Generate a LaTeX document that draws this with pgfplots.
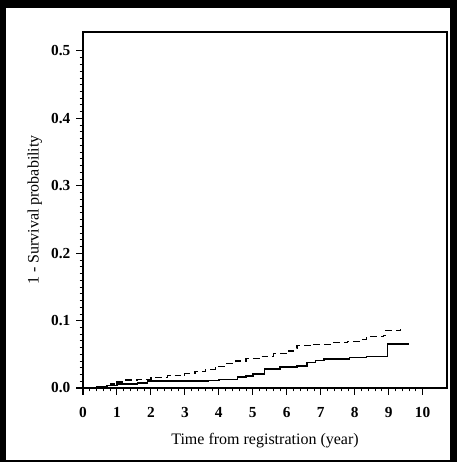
\documentclass[border=0pt]{standalone}
\usepackage{pgfplots}
\pgfplotsset{compat=1.18}
\usepackage{fontspec}
\setmainfont{Liberation Serif}
\begin{document}
\begin{tikzpicture}
\fill[black] (0,0) rectangle (342.75pt,346.5pt);
\fill[white] (4.5pt,1.5pt) rectangle (337.5pt,340.5pt);
\begin{axis}[
  at={(62.25pt,55.5pt)}, anchor=south west,
  scale only axis, width=273pt, height=267pt,
  xmin=0, xmax=10.72, ymin=0, ymax=0.528,
  axis line style={line width=1.2pt},
  xtick={0,1,...,10}, ytick={0,0.1,...,0.5},
  minor x tick num=4, minor y tick num=9,
  tick align=outside, tick pos=left,
  major tick length=5pt, minor tick length=2.5pt,
  every tick/.style={black, line width=0.8pt},
  every minor tick/.style={black, line width=0.5pt},
  y tick label style={/pgf/number format/fixed, /pgf/number format/fixed zerofill, /pgf/number format/precision=1, xshift=-1pt},
  x tick label style={yshift=-6pt},
  /pgf/number format/assume math mode=true,
  tick label style={font=\fontsize{11.5}{13}\selectfont\bfseries},
  xlabel={Time from registration (year)},
  ylabel={1 - Survival probability},
  label style={font=\fontsize{12}{14}\selectfont},
  xlabel style={yshift=-5pt},
  ylabel style={yshift=0pt},
]
\addplot[const plot mark left, black, line width=1.2pt] coordinates {
(0.3,0) (0.4,0.002) (0.7,0.004) (1.0,0.006) (1.6,0.0075) (1.9,0.010) (3.7,0.011) (4.0,0.0125) (4.55,0.016) (4.8,0.018) (5.0,0.021) (5.35,0.028) (5.8,0.031) (6.3,0.033) (6.6,0.038) (6.85,0.041) (7.1,0.043) (7.85,0.0455) (8.35,0.047) (8.97,0.065) (9.6,0.065)
};
\addplot[const plot mark left, black, line width=0.9pt, dash pattern=on 5pt off 3pt] coordinates {
(0.5,0.002) (0.8,0.006) (1.0,0.009) (1.2,0.012) (1.6,0.013) (2.0,0.015) (2.5,0.018) (3.0,0.021) (3.3,0.024) (3.6,0.028) (3.9,0.032) (4.2,0.036) (4.5,0.040) (4.8,0.044) (5.2,0.047) (5.6,0.051) (6.0,0.055) (6.2,0.058) (6.3,0.063) (6.8,0.065) (7.3,0.067) (7.8,0.069) (8.2,0.072) (8.35,0.076) (8.85,0.078) (8.9,0.085) (9.35,0.087)
};
\end{axis}
\end{tikzpicture}
\end{document}
